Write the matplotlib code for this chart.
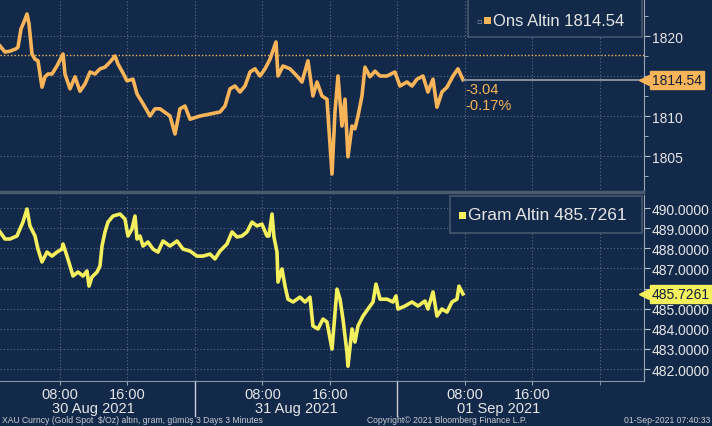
import matplotlib.pyplot as plt
import matplotlib.transforms as mtransforms
from matplotlib.patches import Rectangle
from matplotlib.ticker import FixedLocator, MultipleLocator

plt.rcParams['font.family'] = ['Liberation Sans', 'DejaVu Sans']

# hours since 30 Aug 2021 00:00
ons_hours = [0.89, 1.48, 2.07, 2.79, 3.02, 3.38, 3.73, 4.09, 4.33, 4.68,
             5.04, 5.39, 5.87, 6.22, 6.58, 7.05, 7.64, 8.36, 8.59, 9.19,
             9.78, 10.37, 10.96, 11.56, 12.15, 12.74, 13.33, 13.93, 14.52, 14.87,
             15.35, 15.94, 16.65, 17.13, 17.72, 18.19, 18.67, 19.26, 19.85, 21.04,
             21.63, 22.22, 22.81, 23.41, 24.59, 25.78, 26.96, 27.56, 28.15, 28.74,
             29.33, 29.93, 30.52, 31.11, 31.70, 32.30, 32.89, 33.60, 33.84, 34.43,
             35.26, 36.09, 36.68, 37.39, 37.98, 38.46, 39.05, 39.64, 40.24, 40.59,
             40.95, 41.42, 41.78, 42.13, 42.61, 42.96, 43.32, 43.79, 44.15, 44.74,
             45.33, 45.93, 46.76, 47.70, 48.30, 49.12, 49.72, 50.31, 51.02, 51.61,
             52.21, 52.68, 53.27, 53.87, 54.58, 55.17, 55.76]
ons_price = [1818.75, 1818.0, 1818.1, 1818.4, 1818.6, 1820.9, 1821.75, 1822.75, 1821.5, 1817.75,
             1817.1, 1816.9, 1813.6, 1814.9, 1815.25, 1815.25, 1816.25, 1817.75, 1815.25, 1813.4,
             1814.9, 1813.1, 1814.0, 1815.5, 1815.25, 1815.9, 1816.1, 1816.75, 1817.5, 1816.5,
             1815.6, 1814.4, 1814.6, 1812.75, 1811.75, 1810.9, 1810.0, 1810.9, 1810.9, 1810.0,
             1807.75, 1810.9, 1811.25, 1809.6, 1810.0, 1810.25, 1810.5, 1811.25, 1813.4, 1813.75,
             1813.0, 1813.75, 1815.5, 1815.9, 1815.0, 1815.9, 1817.1, 1819.25, 1815.0, 1816.25,
             1815.9, 1815.0, 1814.25, 1816.9, 1812.5, 1814.25, 1812.5, 1812.1, 1802.75, 1810.5,
             1815.0, 1808.75, 1812.1, 1804.9, 1808.75, 1808.4, 1810.0, 1812.5, 1816.1, 1814.9,
             1815.6, 1815.0, 1815.0, 1815.5, 1813.75, 1814.25, 1813.75, 1814.6, 1815.0, 1813.0,
             1814.6, 1811.1, 1813.0, 1813.6, 1815.0, 1815.9, 1814.54]

gram_hours = [0.89, 1.48, 2.07, 2.90, 3.26, 3.61, 4.09, 4.44, 5.04, 5.39,
              5.87, 6.46, 7.05, 7.64, 8.24, 8.36, 8.83, 9.19, 9.54, 10.13,
              10.73, 11.20, 11.44, 11.79, 12.39, 12.74, 12.98, 13.33, 13.69, 14.28,
              15.11, 15.70, 16.06, 16.53, 16.89, 17.13, 17.48, 17.84, 18.43, 19.02,
              19.62, 20.21, 21.04, 21.87, 22.58, 23.41, 24.24, 24.95, 25.78, 26.37,
              26.96, 27.79, 28.39, 28.98, 29.57, 30.16, 30.76, 31.35, 31.94, 32.53,
              32.77, 33.13, 33.36, 33.72, 33.84, 34.31, 34.67, 35.02, 35.62, 36.44,
              37.04, 37.63, 37.98, 38.58, 39.17, 39.64, 40.24, 40.83, 41.19, 41.54,
              42.01, 42.13, 42.61, 42.96, 43.32, 43.91, 44.50, 45.10, 45.45, 45.93,
              46.76, 47.47, 47.82, 48.06, 48.89, 49.72, 50.43, 51.26, 51.61, 52.21,
              52.68, 53.27, 53.87, 54.46, 55.05, 55.29, 55.76]
gram_price = [488.81, 488.46, 488.46, 488.61, 488.96, 489.30, 489.95, 489.11, 488.61, 487.96,
              487.32, 487.81, 487.61, 487.81, 487.96, 488.21, 487.61, 487.12, 486.62, 486.82,
              486.62, 486.87, 486.12, 486.57, 486.82, 487.12, 488.11, 488.81, 489.30, 489.60,
              489.70, 489.45, 488.61, 488.96, 489.60, 488.46, 488.61, 488.11, 488.31, 487.96,
              487.81, 488.36, 488.11, 488.36, 487.96, 487.86, 487.61, 487.61, 487.71, 487.47,
              487.86, 488.21, 488.81, 488.56, 488.61, 488.81, 489.30, 489.11, 489.20, 488.61,
              488.61, 489.70, 488.56, 487.81, 486.32, 486.97, 486.12, 485.47, 485.33, 485.57,
              485.33, 485.57, 484.14, 483.99, 484.48, 484.34, 482.99, 485.97, 485.47, 484.48,
              482.84, 482.14, 483.99, 483.34, 484.14, 484.63, 484.98, 485.33, 486.22, 485.47,
              485.47, 485.33, 485.63, 484.98, 485.13, 485.33, 485.13, 485.38, 484.98, 485.83,
              484.63, 484.98, 484.83, 485.33, 485.47, 486.12, 485.73]

ons_last = 1814.54
ons_prev_close = 1817.58
ons_change = "-3.04"
ons_change_pct = "-0.17%"
gram_last = 485.7261

ons_ticks = [1805, 1810, 1815, 1820]
gram_ticks = [482, 483, 484, 485, 486, 487, 488, 489, 490]
time_ticks = [8, 16, 32, 40, 56, 64]
time_labels = ["08:00", "16:00", "08:00", "16:00", "08:00", "16:00"]
day_centers = [12, 36, 60]
day_labels = ["30 Aug 2021", "31 Aug 2021", "01 Sep 2021"]
day_breaks = [24, 48]

bg = '#13294a'
fg = '#e6e6e6'
grid_c = '#5b6d86'
orange = '#f8b458'
yellow = '#f4ef5c'

W, H = 712, 427


def fx(px):
    return px / W


def fy(py):
    return 1 - py / H


fig = plt.figure(figsize=(7.12, 4.27), dpi=100, facecolor=bg)
ax1 = fig.add_axes([0, fy(193), fx(643.5), fy(0) - fy(193)])
ax2 = fig.add_axes([0, fy(382), fx(643.5), fy(196) - fy(382)])

xlim = (0.889, 77.16)

for ax in (ax1, ax2):
    ax.set_facecolor(bg)
    ax.set_xlim(*xlim)
    ax.yaxis.tick_right()
    for s in ('left', 'top'):
        ax.spines[s].set_visible(False)
    ax.spines['right'].set_color('#9aa5b4')
    ax.spines['bottom'].set_color('#8a96a6')
    ax.xaxis.set_major_locator(MultipleLocator(8))
    ax.grid(True, which='major', color=grid_c, linestyle=(0, (1, 2)), linewidth=0.8)
    ax.tick_params(axis='y', which='both', colors='#b8c0cc', labelcolor=fg, direction='out',
                   length=4, pad=2, labelsize=10)
    ax.tick_params(axis='y', which='minor', length=3)

ax1.spines['bottom'].set_color('#4c5b70')
ax1.spines['bottom'].set_linewidth(2.5)
ax1.tick_params(axis='x', which='both', length=0, labelbottom=False)

# top panel: ons
ax1.plot(ons_hours, ons_price, color=orange, linewidth=2.6, solid_joinstyle='round')
ax1.set_ylim(1800.5, 1824.625)
ax1.yaxis.set_major_locator(FixedLocator(ons_ticks))
ax1.yaxis.set_minor_locator(MultipleLocator(2.5))
# the last-price tag covers the nearest tick label
ax1.yaxis.set_major_formatter(lambda v, p: "" if abs(v - ons_last) < 1.5 else f"{v:.0f}")
ax1.axhline(ons_prev_close, color=orange, linestyle=(0, (1, 1.5)), linewidth=1.0)
ax1.hlines(ons_last, ons_hours[-1], xlim[1], color='#9aa0a8', linewidth=1.2)
ax1.annotate(ons_change, xy=(ons_hours[-1], ons_last), xytext=(1.5, -6.5), textcoords='offset points',
             color=orange, fontsize=10.5, va='center', ha='left')
ax1.annotate(ons_change_pct, xy=(ons_hours[-1], ons_last), xytext=(1.5, -18.5), textcoords='offset points',
             color=orange, fontsize=10.5, va='center', ha='left')

# bottom panel: gram
ax2.plot(gram_hours, gram_price, color=yellow, linewidth=2.6, solid_joinstyle='round')
ax2.set_ylim(481.404, 490.646)
ax2.yaxis.set_major_locator(FixedLocator(gram_ticks))
ax2.yaxis.set_major_formatter(lambda v, p: "" if abs(v - gram_last) < 0.5 else f"{v:.4f}")

ax2.set_xticks(time_ticks, time_labels)
ax2.xaxis.set_minor_locator(MultipleLocator(8))
ax2.grid(True, which='minor', color=grid_c, linestyle=(0, (1, 2)), linewidth=0.8, axis='x')
ax2.tick_params(axis='x', which='both', colors='#9aa5b4', labelcolor=fg, length=3, pad=1, labelsize=10.5)

trans = mtransforms.blended_transform_factory(ax2.transData, ax2.transAxes)
for c, lab in zip(day_centers, day_labels):
    ax2.text(c, -0.146, lab, transform=trans, ha='center', va='center', color=fg, fontsize=10.5)
for b in day_breaks:
    ax2.plot([b, b], [0, -0.19], transform=trans, color='#c8cdd4', linewidth=1, clip_on=False)

# price tags on the right axis
for ax, val, txt, col in ((ax1, ons_last, f"{ons_last:.2f}", orange),
                          (ax2, gram_last, f"{gram_last:.4f}", yellow)):
    ax.plot([1.0], [val], marker='<', markersize=7, color=col, clip_on=False, zorder=6,
            transform=mtransforms.blended_transform_factory(ax.transAxes, ax.transData))
    ax.annotate(txt, xy=(1.0, val), xycoords=('axes fraction', 'data'), xytext=(6, 0),
                textcoords='offset points', ha='left', va='center', fontsize=10, color='#10203a',
                zorder=7, annotation_clip=False,
                bbox=dict(boxstyle='square,pad=0.15', facecolor=col, edgecolor=col))

# legend boxes
fig.add_artist(Rectangle((fx(468), fy(38)), fx(642) - fx(468), fy(-3) - fy(38),
                         transform=fig.transFigure, facecolor=bg, edgecolor='#46576e', linewidth=1.2))
fig.text(fx(479), fy(21), '\u25ab', color='#8a96a6', fontsize=6, ha='center', va='center',
         family=['DejaVu Sans'])
fig.add_artist(Rectangle((fx(483.5), fy(24.5)), fx(7), 7 / H, transform=fig.transFigure,
                         facecolor=orange, edgecolor='none'))
fig.text(fx(493), fy(21), "Ons Altin " + f"{ons_last:.2f}", color=fg, fontsize=12, ha='left', va='center')

fig.add_artist(Rectangle((fx(450), fy(234)), fx(642) - fx(450), fy(197) - fy(234),
                         transform=fig.transFigure, facecolor=bg, edgecolor='#46576e', linewidth=1.2))
fig.add_artist(Rectangle((fx(458.5), fy(219.5)), fx(7), 7 / H, transform=fig.transFigure,
                         facecolor=yellow, edgecolor='none'))
fig.text(fx(468), fy(216), "Gram Altin " + f"{gram_last:.4f}", color=fg, fontsize=12.5, ha='left', va='center')

# footer
fig.text(fx(2), fy(421), "XAU Curncy (Gold Spot  $/Oz) alt\u0131n, gram, g\u00fcm\u00fc\u015f 3 Days 3 Minutes",
         color='#c8ccd2', fontsize=6.2, ha='left', va='center')
fig.text(fx(367), fy(421), "Copyright\u00a9 2021 Bloomberg Finance L.P.", color='#c8ccd2', fontsize=6.2,
         ha='left', va='center')
fig.text(fx(710), fy(421), "01-Sep-2021 07:40:33", color='#c8ccd2', fontsize=6.2, ha='right', va='center')

fig.savefig('out.png', dpi=100, facecolor=bg)
